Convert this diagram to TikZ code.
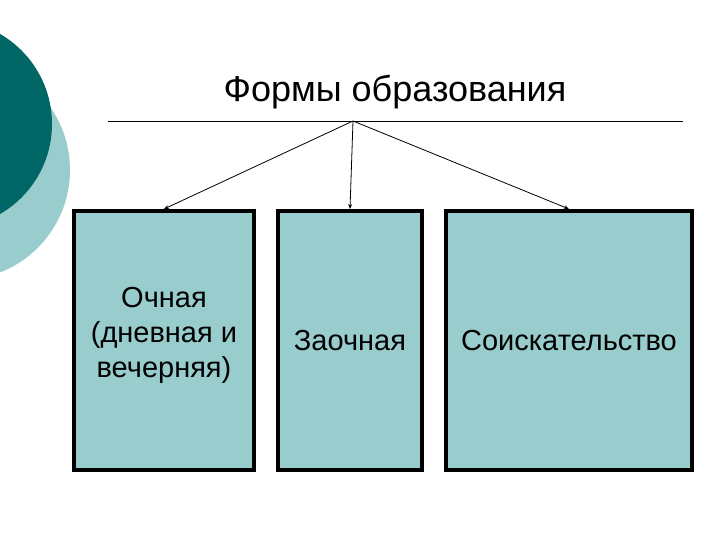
\documentclass[tikz,border=0pt]{standalone}
\usepackage{fontspec}
\setmainfont{Liberation Sans}
\usetikzlibrary{arrows.meta}
\definecolor{dteal}{HTML}{006666}
\definecolor{lteal}{HTML}{99CCCC}
\begin{document}
\begin{tikzpicture}[x=1pt,y=-1pt,
  box/.style={draw=black,line width=4pt,fill=lteal,anchor=north west,inner sep=0pt},
  lbl/.style={font=\fontsize{29}{35}\selectfont,align=center},
  arr/.style={-{Stealth[length=5pt,width=4pt]},line width=0.8pt}]
\useasboundingbox (0,0) rectangle (720,540);
\fill[lteal] (-40,170) circle (110);
\fill[dteal] (-52,124) circle (104);
\node[font=\fontsize{36}{42}\selectfont] (title) at (395,92) {Формы образования};
\coordinate (l1) at (108,121);
\coordinate (l2) at (683,121);
\draw[line width=0.6pt] (l1) -- (l2);
\coordinate (hub) at (353,121);
\node[box,minimum width=180,minimum height=259] (b1) at (72,209) {};
\node[box,minimum width=144,minimum height=259] (b2) at (276,209) {};
\node[box,minimum width=246,minimum height=259] (b3) at (444,209) {};
\node[lbl] (t1) at ([yshift=5]b1.center) {Очная\\(дневная и\\вечерняя)};
\node[lbl] (t2) at (b2.center) {Заочная};
\node[lbl] (t3) at (b3.center) {Соискательство};
\draw[arr] (hub) -- (b1.north);
\draw[arr] (hub) -- (b2.north);
\draw[arr] (hub) -- (b3.north);
\end{tikzpicture}
\end{document}
